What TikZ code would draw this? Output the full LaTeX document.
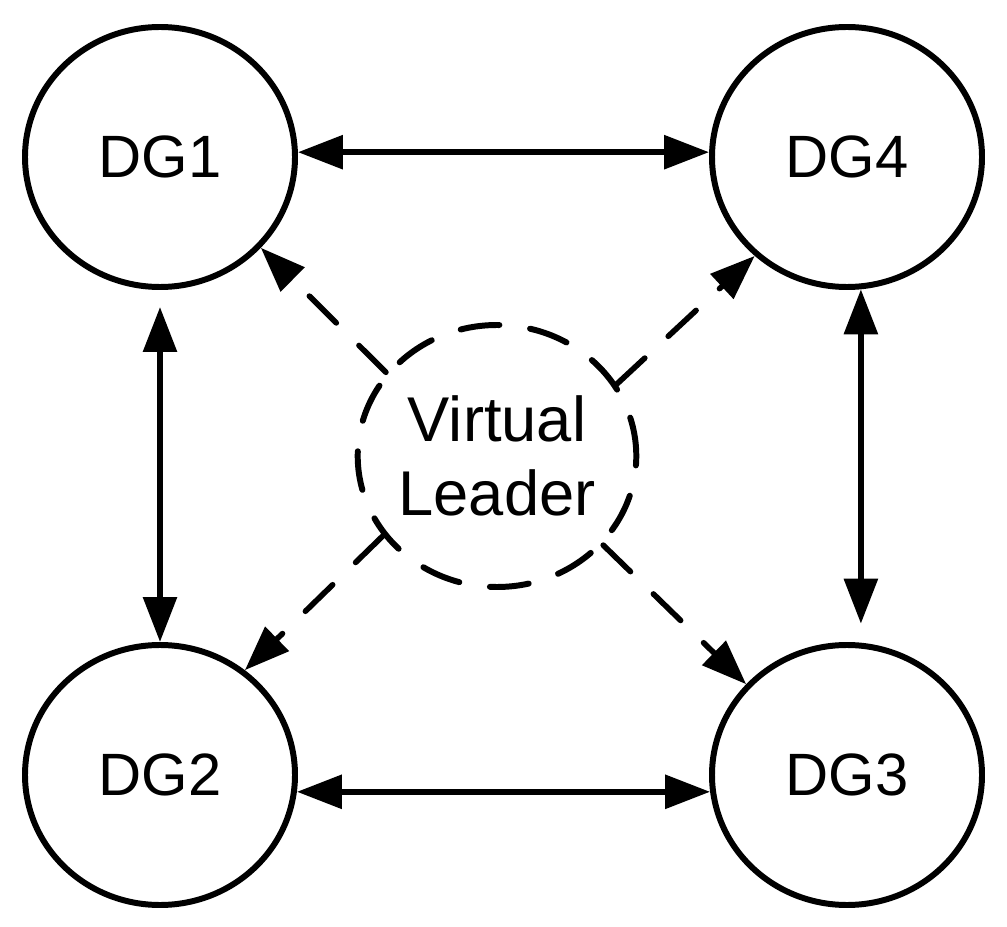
\documentclass[tikz,border=0pt]{standalone}
\usepackage{fontspec}
\setmainfont{Liberation Sans}
\usepackage{tikz}
\usetikzlibrary{calc}
\usetikzlibrary{arrows.meta}
\usetikzlibrary{shapes.geometric}
\tikzset{dgnode/.style={draw, ellipse, line width=1.7pt, minimum width=2.70cm, minimum height=2.60cm, inner sep=0pt, font=\fontsize{17}{21}\selectfont}}
\tikzset{leadnode/.style={dgnode, minimum width=2.73cm, minimum height=2.62cm, align=center, font=\fontsize{18}{21}\selectfont, dash pattern=on 0.39cm off 0.31cm, line cap=round}}
\tikzset{link/.style={line width=1.7pt}}
\tikzset{dashlink/.style={line width=1.6pt, line cap=round, dash pattern=on 0.38cm off 0.32cm}}

\begin{document}
\begin{tikzpicture}[>={Triangle[length=0.45cm,width=0.33cm]}]
\useasboundingbox (0,0) rectangle (10.07,9.26);

\foreach \name/\x/\y in {dg1/1.60/7.69, dg4/8.47/7.69, dg2/1.60/1.51, dg3/8.47/1.51} {
  \node[dgnode] (\name) at (\x,\y) {\MakeUppercase{\name}};
}
\node[leadnode] (vl) at (4.97,4.70) {Virtual\\Leader};

% neighbours
\draw[link,<->] (dg1.2) -- (dg4.178);
\draw[link,<->] (dg2.-7) -- (dg3.187);
\draw[link,<->,shorten <=0.17cm] (dg1.south) -- (dg2.north);
\draw[link,<->,shorten >=0.19cm] (dg4.-84) -- (dg3.84);

% leader
\draw[dashlink,->] (vl.143) -- (dg1.-42);
\draw[dashlink,->] (vl.31) -- (dg4.-133);
\draw[dashlink,->] (vl.215) -- (dg2.51);
\draw[dashlink,->] (vl.-40) -- (dg3.138);
\end{tikzpicture}
\end{document}
